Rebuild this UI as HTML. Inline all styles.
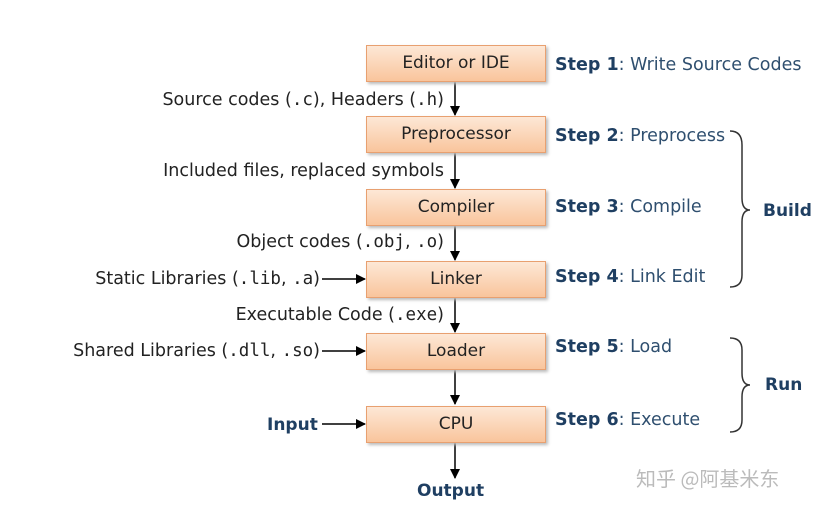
<!DOCTYPE html>
<html><head><style>
body{margin:0;width:832px;height:510px;background:#fff;position:relative;font-family:"DejaVu Sans","Liberation Sans",sans-serif;overflow:hidden}
.box{position:absolute;left:366px;width:178px;height:35px;border:1px solid #e8a070;background:linear-gradient(#fde8d6,#f9c59c);box-shadow:2px 2px 3px #bbb;font-size:17px;color:#222;text-align:center;line-height:35px}
.t{position:absolute;font-size:17.5px;color:#222;white-space:nowrap}
.t code{font-family:"DejaVu Sans Mono","Liberation Mono",monospace;font-size:17.5px}
.s{position:absolute;left:555px;font-size:17.5px;color:#2f4f6f;white-space:nowrap}
.s b{color:#1f3f62}
.b{position:absolute;font-size:17px;font-weight:bold;color:#1f3f62}
</style></head><body>
<svg width="832" height="510" style="position:absolute;left:0;top:0">
<defs><marker id="a" markerWidth="10" markerHeight="10" refX="9" refY="5" orient="auto" markerUnits="userSpaceOnUse"><path d="M0,0 L10,5 L0,10 z" fill="#000"/></marker></defs>
<g stroke="#000" stroke-width="1.5" marker-end="url(#a)">
<line x1="455" y1="82" x2="455" y2="115"/>
<line x1="455" y1="153" x2="455" y2="188"/>
<line x1="455" y1="226" x2="455" y2="260"/>
<line x1="455" y1="297" x2="455" y2="332"/>
<line x1="455" y1="369" x2="455" y2="404"/>
<line x1="455" y1="442" x2="455" y2="478"/>
<line x1="322" y1="279" x2="365" y2="279"/>
<line x1="322" y1="351" x2="365" y2="351"/>
<line x1="322" y1="424" x2="365" y2="424"/>
</g>
<g fill="none" stroke="#333" stroke-width="1.5">
<path d="M730,131 Q742,131 742,145 L742,198 Q742,210 750,210 Q742,210 742,222 L742,275 Q742,287 730,287"/>
<path d="M730,338 Q742,338 742,350 L742,373 Q742,385 750,385 Q742,385 742,397 L742,420 Q742,432 730,432"/>
</g>
</svg>
<div class="box" style="top:45px">Editor or IDE</div>
<div class="box" style="top:116px">Preprocessor</div>
<div class="box" style="top:189px">Compiler</div>
<div class="box" style="top:261px">Linker</div>
<div class="box" style="top:333px">Loader</div>
<div class="box" style="top:406px">CPU</div>
<div class="t" style="right:388px;top:90px">Source codes (<code>.c</code>), Headers (<code>.h</code>)</div>
<div class="t" style="right:388px;top:161px">Included files, replaced symbols</div>
<div class="t" style="right:388px;top:232px">Object codes (<code>.obj</code>, <code>.o</code>)</div>
<div class="t" style="right:512px;top:269px">Static Libraries (<code>.lib</code>, <code>.a</code>)</div>
<div class="t" style="right:388px;top:305px">Executable Code (<code>.exe</code>)</div>
<div class="t" style="right:512px;top:341px">Shared Libraries (<code>.dll</code>, <code>.so</code>)</div>
<div class="b" style="left:267px;top:415px">Input</div>
<div class="b" style="left:417px;top:481px">Output</div>
<div class="s" style="top:55px"><b>Step 1</b>: Write Source Codes</div>
<div class="s" style="top:126px"><b>Step 2</b>: Preprocess</div>
<div class="s" style="top:197px"><b>Step 3</b>: Compile</div>
<div class="s" style="top:267px"><b>Step 4</b>: Link Edit</div>
<div class="s" style="top:337px"><b>Step 5</b>: Load</div>
<div class="s" style="top:410px"><b>Step 6</b>: Execute</div>
<div class="b" style="left:763px;top:201px">Build</div>
<div class="b" style="left:765px;top:375px">Run</div>
<div class="t" style="left:636px;top:463px;color:#bbb;font-family:'Noto Sans CJK SC',sans-serif;font-size:20px">知乎 @阿基米东</div>
</body></html>
